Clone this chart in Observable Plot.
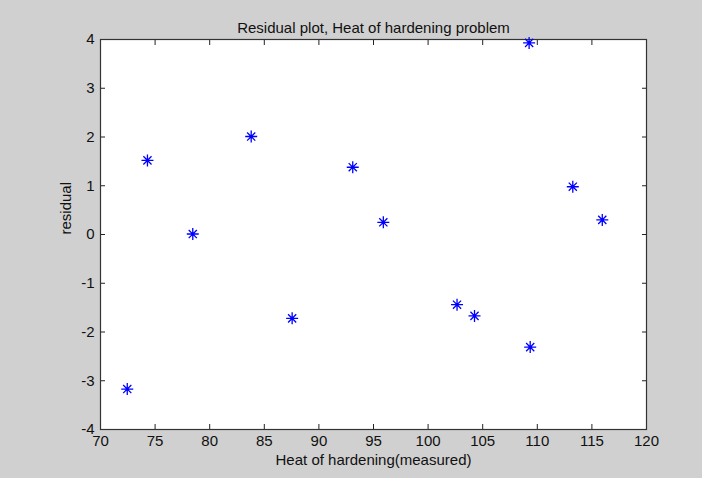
<!DOCTYPE html>
<html>
<head>
<meta charset="utf-8">
<script src="https://cdn.jsdelivr.net/npm/d3@7"></script>
<script src="https://cdn.jsdelivr.net/npm/@observablehq/plot@0.6"></script>
<style>
  html, body { margin: 0; padding: 0; background: #d0d0d0; }
  #chart svg { display: block; }
</style>
</head>
<body>
<div id="chart"></div>
<script>
const title = "Residual plot, Heat of hardening problem";
const xLabel = "Heat of hardening(measured)";
const yLabel = "residual";

const measured = [72.45, 74.3, 78.45, 83.8, 87.55, 93.1, 95.9, 102.65, 104.25, 109.25, 109.35, 113.25, 115.95];
const residual = [-3.17, 1.52, 0.01, 2.01, -1.72, 1.38, 0.25, -1.44, -1.67, 3.93, -2.31, 0.98, 0.30];

const xTicks = [70, 75, 80, 85, 90, 95, 100, 105, 110, 115, 120];
const yTicks = [-4, -3, -2, -1, 0, 1, 2, 3, 4];

const data = measured.map((x, i) => ({x, y: residual[i]}));

// MATLAB-style '*' marker: plus + shorter diagonal cross
const star = {
  draw(ctx, size) {
    const r = Math.sqrt(size / Math.PI);
    const d = r * 0.68;
    ctx.moveTo(-r, 0); ctx.lineTo(r, 0);
    ctx.moveTo(0, -r); ctx.lineTo(0, r);
    ctx.moveTo(-d, -d); ctx.lineTo(d, d);
    ctx.moveTo(-d, d); ctx.lineTo(d, -d);
  }
};

const noText = () => "";
const fmt = d => String(d);

const plot = Plot.plot({
  width: 702,
  height: 478,
  marginLeft: 100,
  marginRight: 56,
  marginTop: 39,
  marginBottom: 49,
  style: {
    background: "#d0d0d0",
    fontFamily: "'Liberation Sans', Arial, Helvetica, sans-serif",
    fontSize: "15px",
    color: "#000"
  },
  x: {domain: [70, 120]},
  y: {domain: [-4, 4]},
  marks: [
    Plot.frame({fill: "white", stroke: null}),
    // tick labels
    Plot.axisX(xTicks, {anchor: "bottom", tickSize: 0, tickPadding: 6, tickFormat: fmt, label: null, fill: "#111"}),
    Plot.axisY(yTicks, {anchor: "left", tickSize: 0, tickPadding: 6, tickFormat: fmt, label: null, fill: "#111"}),
    // inward ticks on all four sides
    Plot.axisX(xTicks, {anchor: "bottom", tickSize: 5, dy: -5, tickFormat: noText, label: null, stroke: "#222"}),
    Plot.axisX(xTicks, {anchor: "top", tickSize: 5, dy: 5, tickFormat: noText, label: null, stroke: "#222"}),
    Plot.axisY(yTicks, {anchor: "left", tickSize: 5, dx: 5, tickFormat: noText, label: null, stroke: "#222"}),
    Plot.axisY(yTicks, {anchor: "right", tickSize: 5, dx: -5, tickFormat: noText, label: null, stroke: "#222"}),
    Plot.frame({stroke: "#333", strokeWidth: 1.2}),
    // titles
    Plot.text([title], {text: d => d, frameAnchor: "top", dy: -17, fill: "#111"}),
    Plot.text([xLabel], {text: d => d, frameAnchor: "bottom", dy: 35, fill: "#111"}),
    Plot.text([yLabel], {text: d => d, frameAnchor: "left", dx: -34, rotate: -90, fill: "#111"}),
    // data
    Plot.dot(data, {x: "x", y: "y", symbol: star, r: 6, stroke: "#0000ff", fill: "none", strokeWidth: 1.3})
  ]
});

document.getElementById("chart").appendChild(plot);
</script>
</body>
</html>
